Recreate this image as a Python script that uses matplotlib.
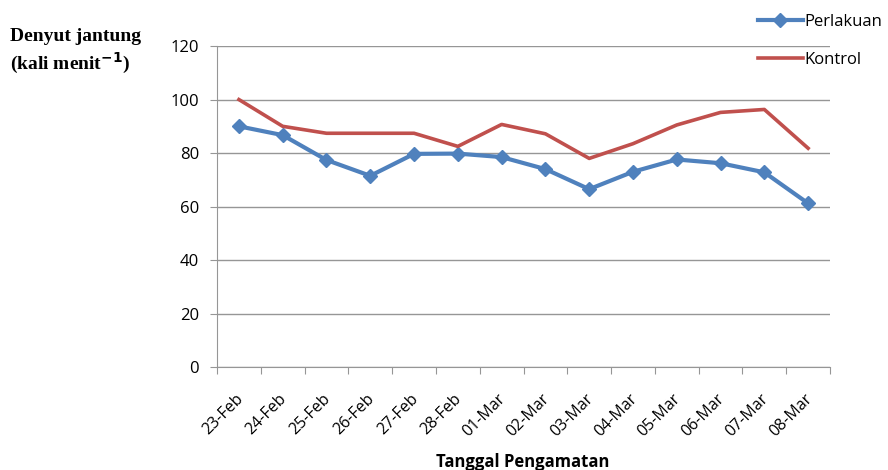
import matplotlib
matplotlib.use("Agg")
import matplotlib.pyplot as plt
from matplotlib.transforms import ScaledTranslation

# tanggal pengamatan dan nilai denyut jantung
tanggal = ["23-Feb", "24-Feb", "25-Feb", "26-Feb", "27-Feb", "28-Feb", "01-Mar",
           "02-Mar", "03-Mar", "04-Mar", "05-Mar", "06-Mar", "07-Mar", "08-Mar"]
perlakuan = [90, 86.7, 77.4, 71.5, 79.7, 79.8, 78.5, 74, 66.5, 73, 77.6, 76.2, 72.8, 61.2]
kontrol = [100, 90, 87.4, 87.4, 87.4, 82.5, 90.7, 87.2, 78, 83.5, 90.5, 95.2, 96.3, 81.8]
yticks = [0, 20, 40, 60, 80, 100, 120]

plt.rcParams['font.family'] = ['Open Sans', 'DejaVu Sans']

fig = plt.figure(figsize=(8.88, 4.70), dpi=100)
ax = fig.add_axes([0.2444, 0.219, 0.6903, 0.683])

x = list(range(len(tanggal)))
ax.plot(x, perlakuan, color='#4F81BD', linewidth=3, marker='D', markersize=7,
        label='Perlakuan', zorder=3)
ax.plot(x, kontrol, color='#C0504D', linewidth=2.6, label='Kontrol', zorder=3)

ax.set_xlim(-0.5, len(tanggal) - 0.5)
ax.set_ylim(0, 120)
ax.set_yticks(yticks)
ax.grid(axis='y', color='#969696', linewidth=1)
ax.set_axisbelow(True)

# garis tick sumbu x di batas kategori, label di tengah kategori
ax.set_xticks([i - 0.5 for i in range(len(tanggal) + 1)])
ax.set_xticklabels([])
ax.set_xticks(x, minor=True)
ax.set_xticklabels(tanggal, minor=True, rotation=45, ha='right', va='top',
                   rotation_mode='anchor', fontsize=11.5)
ax.tick_params(axis='x', which='minor', length=0, pad=17)
ax.tick_params(axis='x', which='major', length=5, color='#969696')
ax.tick_params(axis='y', length=5, color='#969696', labelsize=12, pad=8)
geser = ScaledTranslation(-4 / 100, 0, fig.dpi_scale_trans)
for lbl in ax.get_xticklabels(minor=True):
    lbl.set_transform(lbl.get_transform() + geser)

for s in ['top', 'right']:
    ax.spines[s].set_visible(False)
for s in ['left', 'bottom']:
    ax.spines[s].set_color('#969696')

fig.text(0.011, 0.923, 'Denyut jantung', family='Liberation Serif',
         fontweight='bold', fontsize=14, va='center')
fig.text(0.011, 0.865, '(kali menit$^{\\mathbf{-1}}$)', family='Liberation Serif',
         fontweight='bold', fontsize=14, va='center')
fig.text(0.589, 0.017, 'Tanggal Pengamatan', fontweight='bold', fontsize=12,
         ha='center', va='center')

fig.legend(loc='upper left', bbox_to_anchor=(0.846, 0.985), frameon=False,
           fontsize=12, handlelength=2.7, labelspacing=1.35, handletextpad=0.1,
           borderaxespad=0)

fig.savefig('out.png', dpi=100)
